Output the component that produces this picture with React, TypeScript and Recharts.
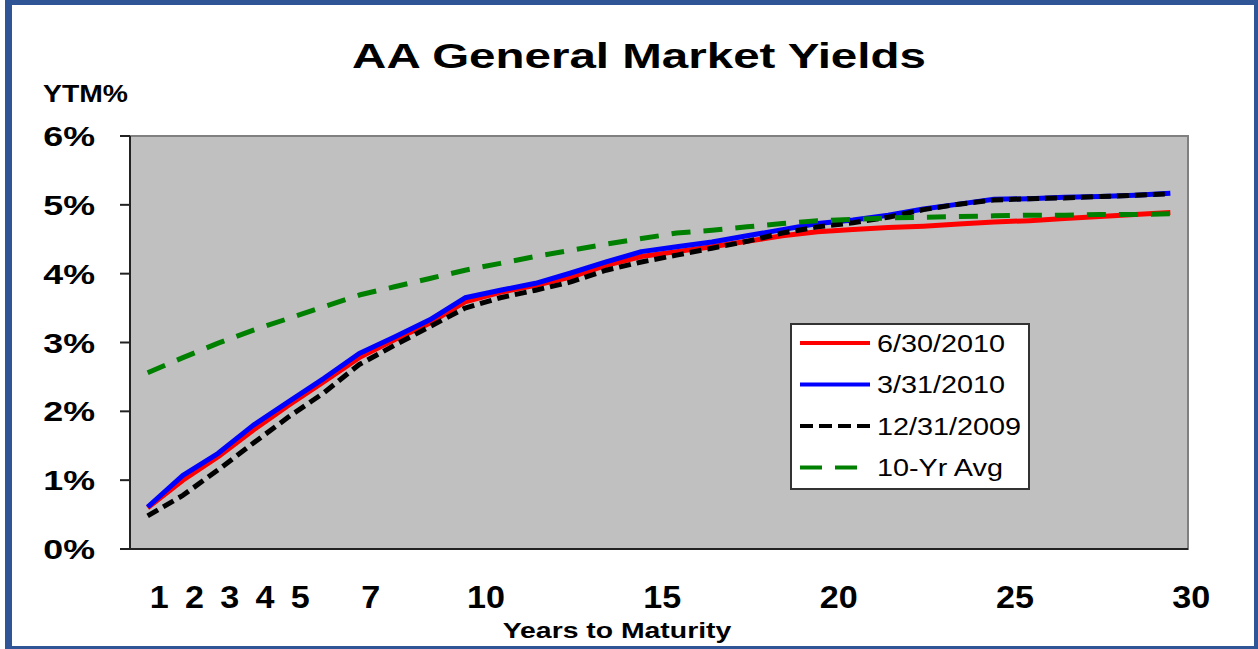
import React from 'react';
import { LineChart, Line, XAxis, YAxis, ReferenceArea, Legend } from 'recharts';

// years to maturity (category axis)
const years = [1, 2, 3, 4, 5, 6, 7, 8, 9, 10, 11, 12, 13, 14, 15, 16, 17, 18, 19, 20, 21, 22, 23, 24, 25, 26, 27, 28, 29, 30];
const labelYears = [1, 2, 3, 4, 5, 7, 10, 15, 20, 25, 30];
const yTicks = [0, 1, 2, 3, 4, 5, 6];

// yields in %
const jun2010 = [0.60, 1.00, 1.34, 1.73, 2.09, 2.43, 2.78, 3.04, 3.28, 3.59, 3.73, 3.83, 3.95, 4.12, 4.25, 4.32, 4.39, 4.47, 4.55, 4.61, 4.64, 4.67, 4.69, 4.72, 4.75, 4.77, 4.80, 4.83, 4.86, 4.89];
const mar2010 = [0.61, 1.07, 1.39, 1.80, 2.14, 2.48, 2.84, 3.08, 3.33, 3.65, 3.76, 3.86, 4.01, 4.17, 4.32, 4.39, 4.46, 4.55, 4.64, 4.73, 4.78, 4.85, 4.94, 5.01, 5.08, 5.09, 5.11, 5.12, 5.14, 5.17];
const dec2009 = [0.48, 0.78, 1.15, 1.54, 1.92, 2.27, 2.68, 2.96, 3.23, 3.50, 3.65, 3.76, 3.88, 4.05, 4.17, 4.27, 4.37, 4.47, 4.59, 4.68, 4.74, 4.82, 4.93, 5.01, 5.07, 5.09, 5.10, 5.12, 5.14, 5.16];
const tenYrAvg = [2.56, 2.78, 2.99, 3.18, 3.35, 3.52, 3.69, 3.81, 3.93, 4.05, 4.15, 4.25, 4.34, 4.43, 4.51, 4.59, 4.63, 4.68, 4.73, 4.77, 4.79, 4.81, 4.82, 4.83, 4.84, 4.85, 4.85, 4.86, 4.86, 4.87];

const data = years.map((year, i) => ({
  year,
  jun: jun2010[i],
  mar: mar2010[i],
  dec: dec2009[i],
  avg: tenYrAvg[i],
}));

// tick marks sit between categories
const boundaryTicks = [years[0] - 0.5, ...years.map((y) => y + 0.5)];

const series = [
  { key: 'jun', name: '6/30/2010', color: '#ff0000', dash: undefined, legendDash: undefined },
  { key: 'mar', name: '3/31/2010', color: '#0000ff', dash: undefined, legendDash: undefined },
  { key: 'dec', name: '12/31/2009', color: '#000000', dash: '12 6', legendDash: '13 6' },
  { key: 'avg', name: '10-Yr Avg', color: '#008000', dash: '19 13', legendDash: '22 13' },
];

const FONT = '"Liberation Sans", Arial, sans-serif';

const YTick = ({ x, y, payload }: any) => (
  <text
    transform={`translate(${x},${y}) scale(1.28,1)`}
    textAnchor="end"
    dy={10}
    fontSize={28}
    fontWeight="bold"
    fontFamily={FONT}
    fill="#000"
  >
    {payload.value}%
  </text>
);

const XTick = ({ x, y, payload }: any) => (
  <text
    transform={`translate(${x + 2},${y}) scale(1.1,1)`}
    textAnchor="start"
    dy={39}
    fontSize={31}
    fontWeight="bold"
    fontFamily={FONT}
    fill="#000"
  >
    {payload.value}
  </text>
);

const LegendBox = () => (
  <div
    style={{
      width: 240,
      height: 167,
      boxSizing: 'border-box',
      border: '2px solid #333',
      background: '#fff',
    }}
  >
    <svg width={236} height={163}>
      {series.map((s, i) => {
        const cy = 18 + i * 41.5;
        return (
          <g key={s.key}>
            <line x1={8} x2={78} y1={cy} y2={cy} stroke={s.color} strokeWidth={4} strokeDasharray={s.legendDash} />
            <text
              transform={`translate(85,${cy + 8.5}) scale(1.2,1)`}
              fontSize={24}
              fontFamily={FONT}
              fill="#000"
            >
              {s.name}
            </text>
          </g>
        );
      })}
    </svg>
  </div>
);

export default function App() {
  return (
    <div style={{ position: 'absolute', left: 0, top: 0, width: 1258, height: 649, background: '#fff', overflow: 'hidden' }}>
      <div
        style={{
          position: 'absolute',
          left: 5,
          top: 0,
          width: 1253,
          height: 649,
          boxSizing: 'border-box',
          borderStyle: 'solid',
          borderColor: '#2f5597',
          borderWidth: '5px 4px 3px 7px',
        }}
      />
      <LineChart width={1258} height={649} data={data} margin={{ top: 136, right: 70, bottom: 50, left: 0 }}>
        <ReferenceArea x1={0.5} x2={30.5} y1={0} y2={6} fill="#c0c0c0" fillOpacity={1} stroke="#808080" strokeWidth={2} />
        <XAxis
          type="number"
          dataKey="year"
          domain={[0.5, 30.5]}
          ticks={boundaryTicks}
          interval={0}
          tick={false}
          tickSize={10}
          height={20}
          axisLine={{ stroke: '#222', strokeWidth: 2 }}
          tickLine={{ stroke: '#222', strokeWidth: 2 }}
        />
        <XAxis
          xAxisId="lbl"
          type="number"
          dataKey="year"
          domain={[0.5, 30.5]}
          ticks={labelYears}
          interval={0}
          axisLine={false}
          tickLine={false}
          tickSize={0}
          tickMargin={0}
          height={30}
          tick={<XTick />}
        />
        <YAxis
          type="number"
          domain={[0, 6]}
          ticks={yTicks}
          interval={0}
          width={130}
          tickSize={10}
          tickMargin={25}
          axisLine={{ stroke: '#222', strokeWidth: 2 }}
          tickLine={{ stroke: '#222', strokeWidth: 2 }}
          tick={<YTick />}
        />
        {series.map((s) => (
          <Line
            key={s.key}
            type="linear"
            dataKey={s.key}
            name={s.name}
            stroke={s.color}
            strokeWidth={5}
            strokeDasharray={s.dash}
            strokeLinejoin="round"
            dot={false}
            activeDot={false}
            isAnimationActive={false}
          />
        ))}
        <Legend
          layout="vertical"
          align="center"
          verticalAlign="middle"
          content={() => <LegendBox />}
          wrapperStyle={{ left: 790, top: 323, width: 240, height: 167 }}
        />
      </LineChart>
      <svg width={1258} height={649} style={{ position: 'absolute', left: 0, top: 0, pointerEvents: 'none' }}>
        <text transform="translate(639,68) scale(1.32,1)" textAnchor="middle" fontSize={36} fontWeight="bold" fontFamily={FONT} fill="#000">
          AA General Market Yields
        </text>
        <text transform="translate(43,102) scale(1.18,1)" fontSize={24} fontWeight="bold" fontFamily={FONT} fill="#000">
          YTM%
        </text>
        <text transform="translate(617,638) scale(1.29,1)" textAnchor="middle" fontSize={22} fontWeight="bold" fontFamily={FONT} fill="#000">
          Years to Maturity
        </text>
      </svg>
    </div>
  );
}
